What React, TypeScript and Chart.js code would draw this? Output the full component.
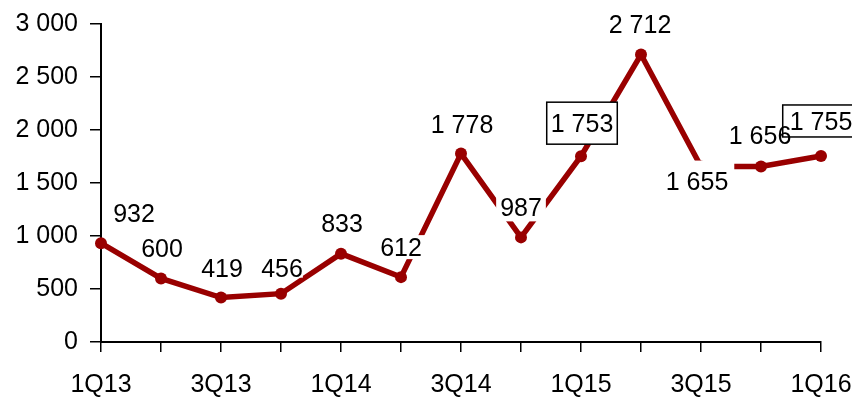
import React, { useEffect, useRef } from "react";
import { Chart, registerables } from "chart.js";

Chart.register(...registerables);

const categories = ["1Q13", "2Q13", "3Q13", "4Q13", "1Q14", "2Q14", "3Q14", "4Q14", "1Q15", "2Q15", "3Q15", "4Q15", "1Q16"];
const values = [932, 600, 419, 456, 833, 612, 1778, 987, 1753, 2712, 1655, 1656, 1755];
const yTicks = [0, 500, 1000, 1500, 2000, 2500, 3000];

const FONT = "'Liberation Sans', Arial, sans-serif";
const FS = 25;
const RED = "#990000";

// label placement relative to each point (styling, not data)
const labelStyle = [
  { dx: 33, dy: -30 },
  { dx: 1, dy: -30 },
  { dx: 1, dy: -30, halfH: 10 },
  { dx: 1, dy: -26, halfH: 10, padX: 0 },
  { dx: 1, dy: -31 },
  { dx: 0, dy: -30 },
  { dx: 1, dy: -29 },
  { dx: 0, dy: -30, halfH: 14 },
  { dx: 1, dy: -33, halfH: 21, border: true },
  { dx: -1, dy: -30 },
  { dx: -4, dy: 14, halfH: 20, padX: 6 },
  { dx: -1, dy: -31 },
  { dx: 0, dy: -35, halfH: 16, padX: 7, border: true },
];

const fmt = (v: number) => String(v).replace(/\B(?=(\d{3})+(?!\d))/g, " ");

const labelPlugin = {
  id: "valueLabels",
  afterDatasetsDraw(chart: any) {
    const ctx = chart.ctx;
    const meta = chart.getDatasetMeta(0);
    ctx.save();
    ctx.font = `${FS}px ${FONT}`;
    const items = meta.data.map((pt: any, i: number) => {
      const st: any = labelStyle[i] || { dx: 0, dy: -30 };
      const text = fmt(values[i]);
      const w = ctx.measureText(text).width;
      const cx = pt.x + st.dx;
      const cy = pt.y + st.dy;
      return { text, w, cx, cy, st };
    });
    const box = (it: any) => {
      const padX = it.st.padX ?? 4;
      const halfH = it.st.halfH ?? 12;
      return [it.cx - it.w / 2 - padX, it.cy - halfH, it.w + padX * 2, halfH * 2];
    };
    items.forEach((it: any) => {
      const [x, y, w, h] = box(it);
      ctx.fillStyle = "#ffffff";
      ctx.fillRect(x, y, w, h);
    });
    items.forEach((it: any) => {
      if (!it.st.border) return;
      const [x, y, w, h] = box(it);
      ctx.strokeStyle = "#000000";
      ctx.lineWidth = 1.5;
      ctx.strokeRect(x, y, w, h);
    });
    ctx.fillStyle = "#000000";
    ctx.textAlign = "center";
    ctx.textBaseline = "alphabetic";
    items.forEach((it: any) => {
      ctx.fillText(it.text, it.cx, it.cy + FS * 0.358);
    });
    ctx.restore();
  },
};

export default function App() {
  const ref = useRef<HTMLCanvasElement | null>(null);
  useEffect(() => {
    document.body.style.margin = "0";
    const canvas = ref.current;
    if (!canvas) return;
    const chart = new Chart(canvas, {
      type: "line",
      data: {
        labels: categories,
        datasets: [
          {
            data: values,
            borderColor: RED,
            backgroundColor: RED,
            borderWidth: 5.5,
            pointRadius: 6,
            pointBackgroundColor: RED,
            pointBorderWidth: 0,
            tension: 0,
          },
        ],
      },
      options: {
        responsive: false,
        animation: false,
        layout: { padding: { left: 0, right: 31, top: 24, bottom: 0 } },
        plugins: { legend: { display: false }, tooltip: { enabled: false } },
        scales: {
          x: {
            type: "category",
            offset: false,
            grid: { display: true, drawOnChartArea: false, drawTicks: true, tickLength: 10, color: "#000", lineWidth: 1.5 },
            border: { display: true, color: "#000", width: 2 },
            ticks: {
              autoSkip: false,
              maxRotation: 0,
              minRotation: 0,
              padding: 18,
              color: "#000",
              font: { size: FS, family: FONT },
              callback: (_v: any, i: number) => (i % 2 === 0 ? categories[i] : ""),
            },
            afterFit: (s: any) => {
              s.height = 59;
              s.paddingLeft = 0;
              s.paddingRight = 0;
            },
          },
          y: {
            min: yTicks[0],
            max: yTicks[yTicks.length - 1],
            afterBuildTicks: (s: any) => {
              s.ticks = yTicks.map((v) => ({ value: v }));
            },
            grid: { display: true, drawOnChartArea: false, drawTicks: true, tickLength: 11, color: "#000", lineWidth: 1.5 },
            border: { display: true, color: "#000", width: 2 },
            ticks: {
              padding: 12,
              color: "#000",
              font: { size: FS, family: FONT },
              callback: (v: any) => fmt(Number(v)),
            },
            afterFit: (s: any) => {
              s.width = 101;
              s.paddingTop = 0;
              s.paddingBottom = 0;
            },
          },
        },
      },
      plugins: [labelPlugin],
    });
    return () => chart.destroy();
  }, []);
  return <canvas ref={ref} width={852} height={401} style={{ display: "block" }} />;
}
